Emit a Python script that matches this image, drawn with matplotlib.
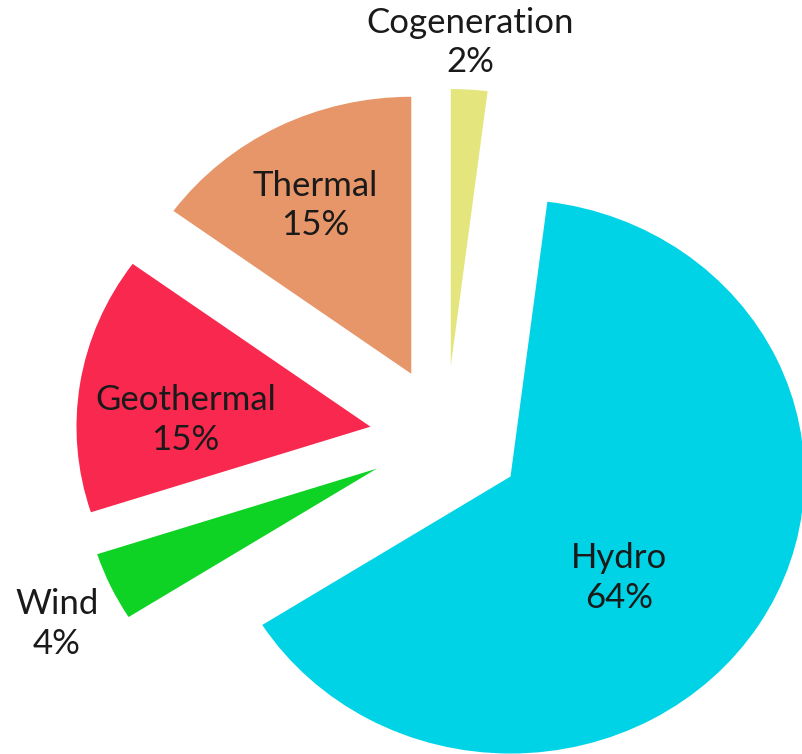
import matplotlib
matplotlib.use("Agg")
import matplotlib.pyplot as plt
import numpy as np

# data, clockwise from 12 o'clock
sources = ["Cogeneration", "Hydro", "Wind", "Geothermal", "Thermal"]
shares = [2, 64, 4, 15, 15]
colors = ["#E4E67D", "#00D3E6", "#0ED224", "#F8284E", "#E69669"]

# label placement (distance from exploded wedge centre, angle tweak in deg)
label_r = [1.17, 0.52, 1.225, 0.63, 0.69]
label_dtheta = [0.4, -12.3, 2.1, 6.8, 1.3]

plt.rcParams["font.family"] = ["Lato", "DejaVu Sans"]

fig = plt.figure(figsize=(8.02, 7.54), dpi=100)
ax = fig.add_axes([0, 0, 1, 1])

wedges, _ = ax.pie(
    shares,
    colors=colors,
    explode=[0.26] * len(shares),
    startangle=90,
    counterclock=False,
    radius=1.0,
    wedgeprops=dict(linewidth=0),
)

for w, name, val, r, dt in zip(wedges, sources, shares, label_r, label_dtheta):
    ang = np.deg2rad((w.theta1 + w.theta2) / 2 + dt)
    cx, cy = w.center
    ax.text(cx + r * np.cos(ang), cy + r * np.sin(ang), f"{name}\n{val}%",
            ha="center", va="center", fontsize=25, color="#1a1a1a",
            linespacing=1.3)

# chart is slightly wider than tall, as in the original
ax.set_aspect("auto")
ax.set_xlim(-1.517, 1.211)
ax.set_ylim(-1.141, 1.581)
ax.axis("off")

fig.savefig("out.png", dpi=100)
